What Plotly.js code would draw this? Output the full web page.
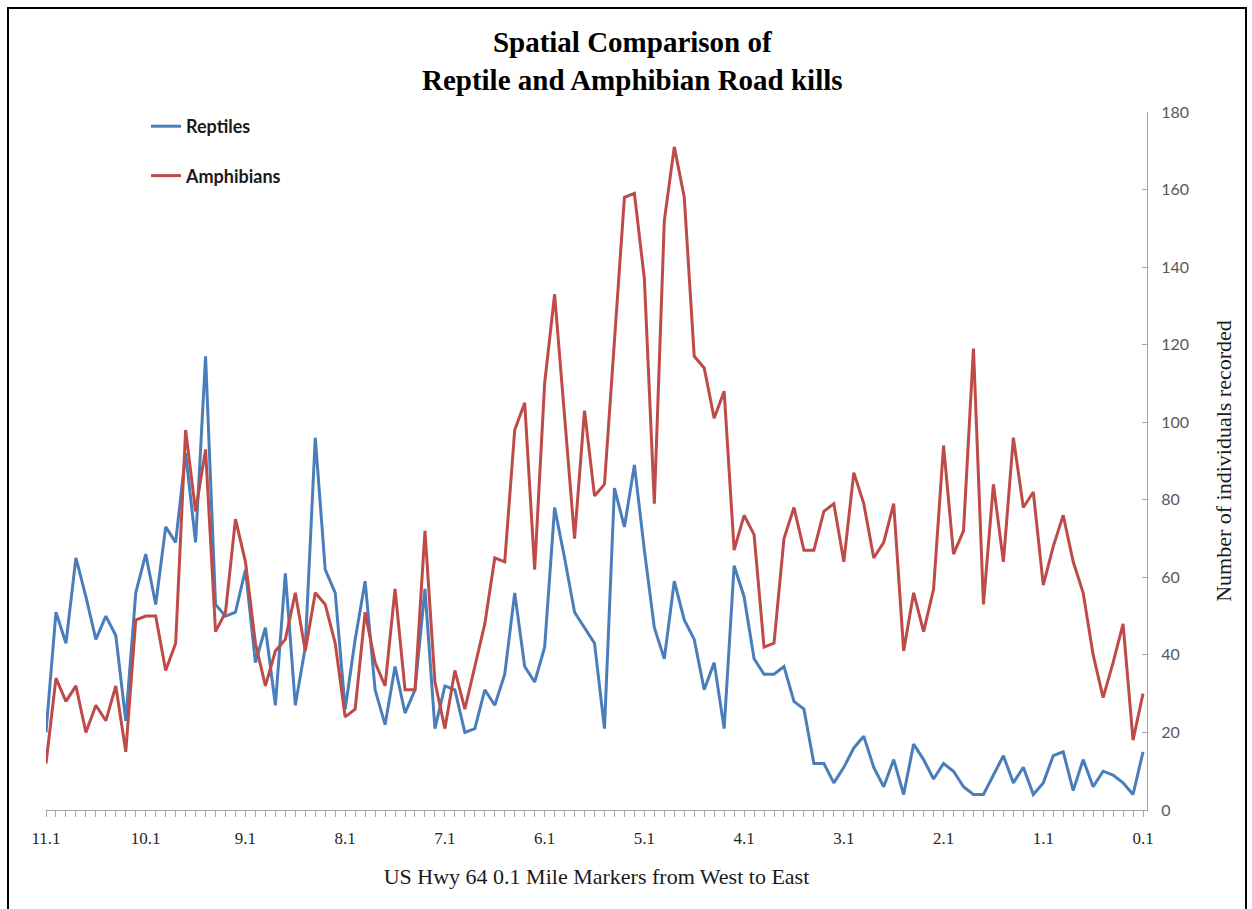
<!DOCTYPE html>
<html>
<head>
<meta charset="utf-8">
<script src="https://cdn.plot.ly/plotly-3.0.1.min.js"></script>
<style>
  html, body { margin: 0; padding: 0; background: #ffffff; }
  #chart { width: 1252px; height: 909px; }
</style>
</head>
<body>
<div id="chart"></div>
<script>
// US Hwy 64 mile markers, west (11.1) to east (0.1)
const mileMarkers = [
  11.1, 11.0, 10.9, 10.8, 10.7, 10.6, 10.5, 10.4, 10.3, 10.2,
  10.1, 10.0, 9.9, 9.8, 9.7, 9.6, 9.5, 9.4, 9.3, 9.2,
  9.1, 9.0, 8.9, 8.8, 8.7, 8.6, 8.5, 8.4, 8.3, 8.2,
  8.1, 8.0, 7.9, 7.8, 7.7, 7.6, 7.5, 7.4, 7.3, 7.2,
  7.1, 7.0, 6.9, 6.8, 6.7, 6.6, 6.5, 6.4, 6.3, 6.2,
  6.1, 6.0, 5.9, 5.8, 5.7, 5.6, 5.5, 5.4, 5.3, 5.2,
  5.1, 5.0, 4.9, 4.8, 4.7, 4.6, 4.5, 4.4, 4.3, 4.2,
  4.1, 4.0, 3.9, 3.8, 3.7, 3.6, 3.5, 3.4, 3.3, 3.2,
  3.1, 3.0, 2.9, 2.8, 2.7, 2.6, 2.5, 2.4, 2.3, 2.2,
  2.1, 2.0, 1.9, 1.8, 1.7, 1.6, 1.5, 1.4, 1.3, 1.2,
  1.1, 1.0, 0.9, 0.8, 0.7, 0.6, 0.5, 0.4, 0.3, 0.2,
  0.1
];

// Reptile road kills per 0.1 mile segment
const reptiles = [
  20, 51, 43, 65, 55, 44, 50, 45, 23, 56,
  66, 53, 73, 69, 92, 69, 117, 53, 50, 51,
  62, 38, 47, 27, 61, 27, 42, 96, 62, 56,
  26, 44, 59, 31, 22, 37, 25, 31, 57, 21,
  32, 31, 20, 21, 31, 27, 35, 56, 37, 33,
  42, 78, 65, 51, 47, 43, 21, 83, 73, 89,
  67, 47, 39, 59, 49, 44, 31, 38, 21, 63,
  55, 39, 35, 35, 37, 28, 26, 12, 12, 7,
  11, 16, 19, 11, 6, 13, 4, 17, 13, 8,
  12, 10, 6, 4, 4, 9, 14, 7, 11, 4,
  7, 14, 15, 5, 13, 6, 10, 9, 7, 4,
  15
];

// Amphibian road kills per 0.1 mile segment
const amphibians = [
  12, 34, 28, 32, 20, 27, 23, 32, 15, 49,
  50, 50, 36, 43, 98, 77, 93, 46, 51, 75,
  64, 43, 32, 41, 44, 56, 41, 56, 53, 43,
  24, 26, 51, 38, 32, 57, 31, 31, 72, 33,
  21, 36, 26, 37, 48, 65, 64, 98, 105, 62,
  110, 133, 101, 70, 103, 81, 84, 120, 158, 159,
  137, 79, 152, 171, 158, 117, 114, 101, 108, 67,
  76, 71, 42, 43, 70, 78, 67, 67, 77, 79,
  64, 87, 79, 65, 69, 79, 41, 56, 46, 57,
  94, 66, 72, 119, 53, 84, 64, 96, 78, 82,
  58, 68, 76, 64, 56, 40, 29, 38, 48, 18,
  30
];

// Labelled markers along the bottom axis
const labelledMarkers = [11.1, 10.1, 9.1, 8.1, 7.1, 6.1, 5.1, 4.1, 3.1, 2.1, 1.1, 0.1];
const labelledText = labelledMarkers.map(v => v.toFixed(1));

const yTicks = [0, 20, 40, 60, 80, 100, 120, 140, 160, 180];

const W = 1252, H = 909;
const M = { l: 46, r: 105, t: 112, b: 99 };
const plotW = W - M.l - M.r;
const plotH = H - M.t - M.b;
// pixel -> paper conversions for the legend and the outer frame
const px2x = p => (p - M.l) / plotW;
const py2y = p => (H - M.b - p) / plotH;

const serif = '"Liberation Serif", "Times New Roman", serif';
const sans = 'Lato, "Liberation Sans", sans-serif';

const traces = [
  {
    x: mileMarkers, y: reptiles, name: 'Reptiles', type: 'scatter', mode: 'lines',
    legendgroup: 'rep',
    line: { color: '#4A7EBB', width: 3 }
  },
  {
    x: mileMarkers, y: amphibians, name: 'Amphibians', type: 'scatter', mode: 'lines',
    legendgroup: 'amph',
    line: { color: '#BE4B48', width: 3 }
  }
];

const layout = {
  width: W, height: H,
  margin: M,
  paper_bgcolor: '#ffffff',
  plot_bgcolor: '#ffffff',
  showlegend: true,
  title: {
    text: '<b>Spatial Comparison of<br>Reptile and Amphibian Road kills</b>',
    font: { family: serif, size: 29, color: '#000000' },
    x: 0.505, xanchor: 'center',
    y: 0.943, yanchor: 'top'
  },
  legend: {
    x: px2x(146), xanchor: 'left',
    y: py2y(108), yanchor: 'top',
    bgcolor: 'rgba(0,0,0,0)',
    font: { family: sans, size: 18, color: '#1a1a1a', weight: 'bold' },
    traceorder: 'grouped',
    tracegroupgap: 23
  },
  xaxis: {
    type: 'linear',
    range: [11.1, 0.06],
    showgrid: false, zeroline: false,
    showline: true, linecolor: '#a6a6a6', linewidth: 1,
    ticks: 'outside', ticklen: 6, tickcolor: '#a6a6a6', tickwidth: 1,
    tickmode: 'array', tickvals: labelledMarkers, ticktext: labelledText,
    tickfont: { family: serif, size: 17, color: '#262626' },
    ticklabelstandoff: 7,
    minor: { ticks: 'outside', ticklen: 6, tickcolor: '#a6a6a6', dtick: 0.1, tick0: 0.1, showgrid: false },
    title: {
      text: 'US Hwy 64 0.1 Mile Markers from West to East',
      font: { family: serif, size: 22, color: '#1a1a1a' },
      standoff: 21
    }
  },
  yaxis: {
    side: 'right',
    range: [0, 180],
    showgrid: false, zeroline: false,
    showline: true, linecolor: '#a6a6a6', linewidth: 1,
    ticks: 'inside', ticklen: 5, tickcolor: '#a6a6a6',
    tickmode: 'array', tickvals: yTicks,
    tickfont: { family: sans, size: 16, color: '#595959' },
    ticklabelstandoff: 10,
    title: {
      text: 'Number of individuals recorded',
      font: { family: serif, size: 22, color: '#1a1a1a' },
      standoff: 27
    }
  },
  shapes: [
    {
      type: 'rect', xref: 'paper', yref: 'paper', layer: 'above',
      x0: px2x(8), x1: px2x(1246), y0: py2y(930), y1: py2y(8),
      line: { color: '#000000', width: 2 }, fillcolor: 'rgba(0,0,0,0)'
    }
  ]
};

Plotly.newPlot('chart', traces, layout, { displayModeBar: false, responsive: false });
</script>
</body>
</html>
